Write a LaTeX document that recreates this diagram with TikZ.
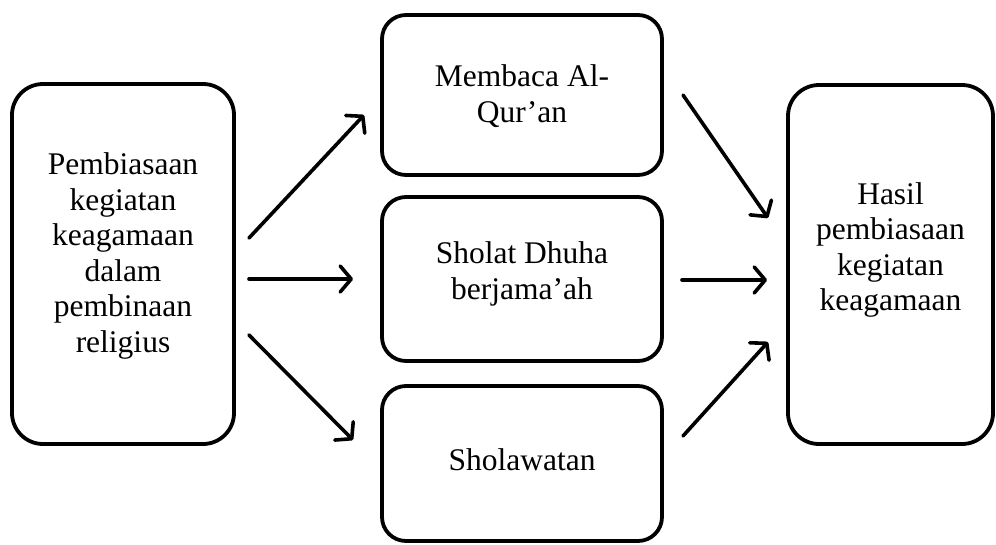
\documentclass[tikz,border=0pt]{standalone}
\usepackage{fontspec}
\setmainfont{Liberation Serif}
\usetikzlibrary{arrows.meta}
\begin{document}
\begin{tikzpicture}[x=1pt,y=-1pt,
  bigbox/.style={draw, line width=3.8pt, rounded corners=31pt, inner sep=0pt},
  midbox/.style={draw, line width=3.8pt, rounded corners=24pt, inner sep=0pt, minimum width=280pt},
  lbl/.style={align=center, font=\fontsize{31.5}{35.6}\selectfont, inner sep=0pt},
  arr/.style={line width=3.6pt, line cap=round,
    -{Straight Barb[length=11pt,width=26pt,line cap=round,line join=round]}}]
\useasboundingbox (0,0) rectangle (996,544);
% boxes
\node[bigbox, minimum width=222pt, minimum height=360pt] (L) at (123,264) {};
\node[midbox, minimum height=160pt] (T) at (522,95) {};
\node[midbox, minimum height=164pt] (M) at (522,279) {};
\node[midbox, minimum height=155pt] (B) at (522,463.5) {};
\node[bigbox, minimum width=205pt, minimum height=359pt] (R) at (890.5,264.5) {};
% texts
\node[lbl] (Lt) at (123,256) {Pembiasaan\\kegiatan\\keagamaan\\dalam\\pembinaan\\religius};
\node[lbl] (Tt) at (522,96) {Membaca Al-\\Qur’an};
\node[lbl] (Mt) at (522,274) {Sholat Dhuha\\berjama’ah};
\node[lbl] (Bt) at (522,460) {Sholawatan};
\node[lbl] (Rt) at (890.5,250) {Hasil\\pembiasaan\\kegiatan\\keagamaan};
% arrow ends
\coordinate (a1s) at (249,238); \coordinate (a1e) at (364,115);
\coordinate (a2s) at (249,279); \coordinate (a2e) at (353,279);
\coordinate (a3s) at (249,335); \coordinate (a3e) at (353,440);
\coordinate (b1s) at (683,95);  \coordinate (b1e) at (768,218);
\coordinate (b2s) at (682,280); \coordinate (b2e) at (767,280);
\coordinate (b3s) at (683,436); \coordinate (b3e) at (768,342);
\draw[arr] (a1s) -- (a1e);
\draw[arr] (a2s) -- (a2e);
\draw[arr] (a3s) -- (a3e);
\draw[arr] (b1s) -- (b1e);
\draw[arr] (b2s) -- (b2e);
\draw[arr] (b3s) -- (b3e);
\end{tikzpicture}
\end{document}
